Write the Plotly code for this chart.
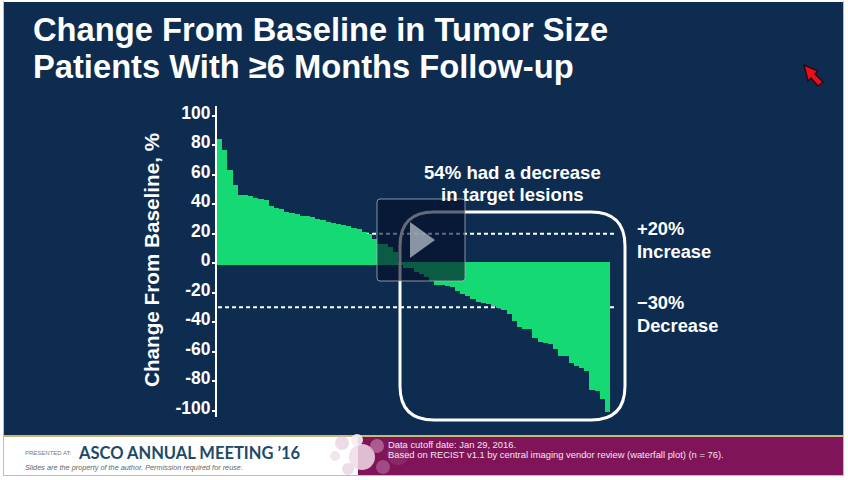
import plotly.graph_objects as go

W, H = 848, 480
FIG_HEIGHT = 484
TOP_OFFSET = 4
title_lines = ["Change From Baseline in Tumor Size", "Patients With ≥6 Months Follow-up"]
y_ticks = [100, 80, 60, 40, 20, 0, -20, -40, -60, -80, -100]
y_tick_labels = ["100", "80", "60", "40", "20", "0", "-20", "-40", "-60", "-80", "-100"]
increase_values = [84, 77, 63, 53, 46, 46, 45.5, 44.5, 43.5, 42.5, 38.5, 37.5, 36.5, 35, 34, 33, 32, 32,
                   31, 30, 29.5, 28, 27, 26.5, 26, 25, 24, 23, 21, 20, 16.5, 13, 13, 11, 7.5, 1]
decrease_values = [-3, -3.5, -6, -7.5, -9.5, -12, -15, -15, -15.5, -16, -19, -21, -22.5, -24.5, -26.5, -27,
                   -28, -29, -30.5, -32, -34.5, -39, -43, -44.5, -45, -51, -53.5, -54.5, -55, -58, -63, -63,
                   -68, -69.6, -71, -73, -86, -87, -92, -101]
base_overlap = 1
GREEN = "#15DA74"
NAVY = "#0D2C50"
PURPLE = "#7F1459"

def px(x): return x / W
def py(y): return 1 - (y + TOP_OFFSET * 0 - TOP_OFFSET) / H

values = increase_values + decrease_values
positions = [i + 0.5 for i in range(len(values))]
lengths = [v + base_overlap if v > 0 else v - base_overlap for v in values]
bases = [-base_overlap if v > 0 else base_overlap for v in values]

fig = go.Figure(go.Bar(x=positions, y=lengths, base=bases, marker=dict(color=GREEN, line=dict(width=0)),
                       hoverinfo="skip"))

def rect(x0, y0, x1, y1, fill, layer="below"):
    return dict(type="rect", xref="paper", yref="paper", x0=px(x0), x1=px(x1), y0=py(y0), y1=py(y1),
                fillcolor=fill, line=dict(width=0), layer=layer)

def circle(cx, cy, r, fill):
    return dict(type="circle", xref="paper", yref="paper", x0=px(cx - r), x1=px(cx + r), y0=py(cy - r), y1=py(cy + r),
                fillcolor=fill, line=dict(width=0), layer="below")

def rounded_path(x0, y0, x1, y1, r):
    a, b, c, d = px(x0), py(y0), px(x1), py(y1)
    rx, ry = r / W, r / H
    return (f"M{a+rx},{b} L{c-rx},{b} Q{c},{b} {c},{b-ry} L{c},{d+ry} Q{c},{d} {c-rx},{d} "
            f"L{a+rx},{d} Q{a},{d} {a},{d+ry} L{a},{b-ry} Q{a},{b} {a+rx},{b} Z")

def poly(points):
    return "M" + " L".join(f"{px(x)},{py(y)}" for x, y in points) + " Z"

shapes = [
    rect(4, 3, 843, 436, NAVY),
    rect(4, 436, 843, 438, "#C9B878"),
    rect(4, 438, 843, 476, "#FFFFFF"),
    rect(358, 438, 843, 476, PURPLE),
    rect(3, 2, 4, 477, "#BDBDBD"),
    rect(843, 2, 844, 477, "#BDBDBD"),
    rect(3, 476, 844, 477, "#BDBDBD"),
    circle(342, 444, 7, "rgba(225,195,215,0.6)"),
    circle(362, 458, 13, "rgba(240,220,232,0.85)"),
    circle(348, 470, 6, "rgba(225,195,215,0.6)"),
    circle(377, 447, 7, "rgba(205,150,190,0.55)"),
    circle(383, 468, 7, "rgba(195,130,175,0.5)"),
    circle(398, 455, 11, "rgba(170,90,140,0.3)"),
    circle(357, 441, 6, "rgba(248,235,243,0.9)"),
    circle(335, 457, 5, "rgba(225,205,218,0.5)"),
    dict(type="line", xref="x", yref="y", x0=0.2, x1=77, y0=20, y1=20,
         line=dict(color="white", width=2, dash="4px,3px"), layer="below"),
    dict(type="line", xref="x", yref="y", x0=0.2, x1=77, y0=-30, y1=-30,
         line=dict(color="white", width=2, dash="4px,3px"), layer="below"),
    dict(type="path", xref="paper", yref="paper", path=rounded_path(400, 213, 625, 421, 34),
         line=dict(color="white", width=3), fillcolor="rgba(0,0,0,0)", layer="above"),
    dict(type="path", xref="paper", yref="paper", path=rounded_path(377, 200, 465, 282, 3),
         line=dict(color="rgba(165,175,190,0.8)", width=1), fillcolor="rgba(5,15,38,0.62)", layer="above"),
    dict(type="path", xref="paper", yref="paper", path=poly([(410, 223), (435, 241), (410, 259)]),
         line=dict(width=0), fillcolor="rgba(160,170,185,0.85)", layer="above"),
    dict(type="path", xref="paper", yref="paper",
         path=poly([(804, 66), (818, 72), (815, 75), (823, 83), (818, 87), (811, 79), (808, 82)]),
         line=dict(color="#2A0A14", width=1.5), fillcolor="#E8101A", layer="above"),
]

def note(text, x, y, size, color="white", anchor="center", bold=True, family="Liberation Sans", italic=False):
    if bold: text = f"<b>{text}</b>"
    if italic: text = f"<i>{text}</i>"
    shift = -2 if anchor == "left" else 0
    return dict(text=text, xref="paper", yref="paper", x=px(x + shift), y=py(y), xanchor=anchor, yanchor="middle",
                showarrow=False, font=dict(size=size, color=color, family=family))

annotations = [
    note(title_lines[0], 33, 30, 32.7, anchor="left"),
    note(title_lines[1], 33, 68, 32.7, anchor="left"),
    note("54% had a decrease", 512, 173, 18.6),
    note("in target lesions", 512, 195, 18.6),
    note("+20%", 637, 229, 18.3, anchor="left"),
    note("Increase", 637, 252, 18.3, anchor="left"),
    note("−30%", 637, 303, 18.3, anchor="left"),
    note("Decrease", 637, 326, 18.3, anchor="left"),
    note("PRESENTED AT:", 25, 454, 6, color="#777777", anchor="left", bold=False),
    note("ASCO ANNUAL MEETING ’16", 78, 454, 16.5, color="#1C4A68", anchor="left", bold=True, family="Lato"),
    note("Slides are the property of the author. Permission required for reuse.", 25, 468, 7.3, color="#666666",
         anchor="left", bold=False, italic=True),
    note("Data cutoff date: Jan 29, 2016.", 388, 445, 9.4, color="#F2E6EE", anchor="left", bold=False),
    note("Based on RECIST v1.1 by central imaging vendor review (waterfall plot) (n = 76).", 388, 455, 9.4,
         color="#F2E6EE", anchor="left", bold=False),
    note("Change From Baseline, %", 151, 261, 20.7),
]
annotations[-1]["textangle"] = -90

fig.update_layout(
    width=W, height=FIG_HEIGHT, margin=dict(l=0, r=0, t=0, b=0, pad=0), autosize=False,
    paper_bgcolor="white", plot_bgcolor="rgba(0,0,0,0)", showlegend=False,
    bargap=0, shapes=shapes, annotations=annotations,
    xaxis=dict(domain=[px(217), px(615.2)], range=[0, 77], visible=False, fixedrange=True),
    yaxis=dict(domain=[py(418), py(107)], range=[-104.4, 106.6], tickmode="array", tickvals=y_ticks,
               ticktext=y_tick_labels, ticks="outside", ticklen=3, tickwidth=1.5, tickcolor="white",
               ticklabelshift=-3, ticklabelstandoff=-2,
               showgrid=False, zeroline=False, showline=True, linecolor="white", linewidth=2,
               tickfont=dict(family="Liberation Sans", size=17.5, color="white", weight="bold"), fixedrange=True),
)
fig.write_html("out.html", config=dict(displayModeBar=False),
               post_script="document.body.style.margin='0';document.body.style.overflow='hidden';")
